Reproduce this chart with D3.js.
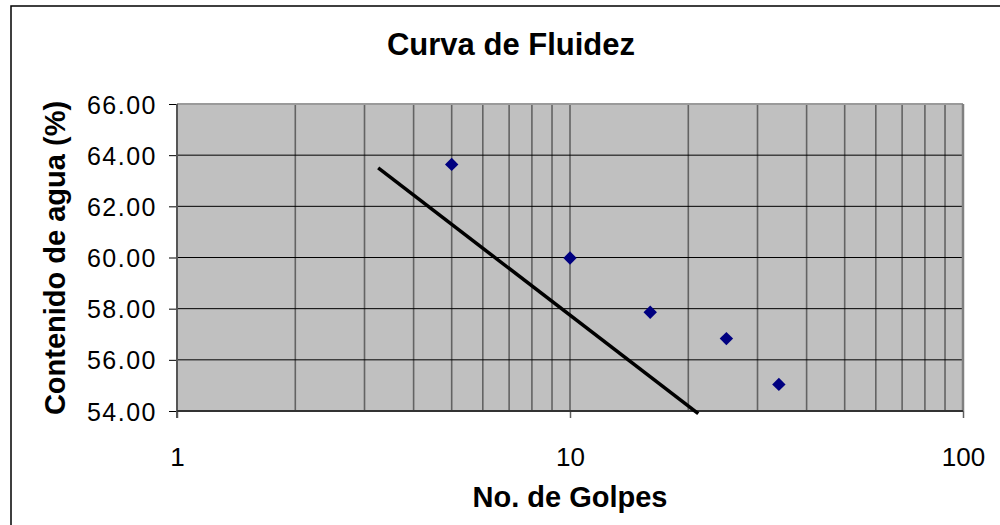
<!DOCTYPE html>
<html>
<head>
<meta charset="utf-8">
<script src="https://cdn.jsdelivr.net/npm/d3@7"></script>
<style>
  body { margin: 0; background: #fff; }
  text { font-family: "Liberation Sans", Arial, sans-serif; }
</style>
</head>
<body>
<div id="chart"></div>
<script>
// values
const golpes = [5, 10, 16, 25, 34]
const agua = [63.64, 59.98, 57.86, 56.83, 55.04]
// straight trend line (two ends)
const trendX = [3.25, 21.2]
const trendY = [63.5, 53.9]
const yTicks = [54, 56, 58, 60, 62, 64, 66]
const xTicks = [1, 10, 100]
const xGrid = [2, 3, 4, 5, 6, 7, 8, 9, 10, 20, 30, 40, 50, 60, 70, 80, 90]

const W = 1000, H = 525
const PLOT = { LEFT: 177, RIGHT: 963, TOP: 104, BOTTOM: 411 }

const svg = d3.select("#chart").append("svg")
  .attr("width", W)
  .attr("height", H)

svg.append("rect")
  .attr("width", W).attr("height", H)
  .attr("fill", "white")

// outer chart frame (runs off the right and bottom)
svg.append("rect")
  .attr("x", 11).attr("y", 6)
  .attr("width", W + 20).attr("height", H + 20)
  .attr("fill", "none")
  .attr("stroke", "black")
  .attr("stroke-width", 1.5)

const x = d3.scaleLog().domain([1, 100]).range([PLOT.LEFT, PLOT.RIGHT])
const y = d3.scaleLinear().domain([54, 66]).range([PLOT.BOTTOM, PLOT.TOP])

// plot background
svg.append("rect")
  .attr("x", PLOT.LEFT).attr("y", PLOT.TOP)
  .attr("width", PLOT.RIGHT - PLOT.LEFT)
  .attr("height", PLOT.BOTTOM - PLOT.TOP)
  .attr("fill", "#c0c0c0")

// vertical grid
svg.append("g").selectAll("line")
  .data(xGrid)
  .enter().append("line")
  .attr("x1", d => x(d)).attr("x2", d => x(d))
  .attr("y1", PLOT.TOP).attr("y2", PLOT.BOTTOM)
  .attr("stroke", "#636363")
  .attr("stroke-width", 1.6)

// horizontal grid
svg.append("g").selectAll("line")
  .data(yTicks.slice(1, -1))
  .enter().append("line")
  .attr("x1", PLOT.LEFT).attr("x2", PLOT.RIGHT)
  .attr("y1", d => y(d)).attr("y2", d => y(d))
  .attr("stroke", "black")
  .attr("stroke-width", 1)

// plot frame: top / right light, left / bottom dark
svg.append("line")
  .attr("x1", PLOT.LEFT).attr("x2", PLOT.RIGHT)
  .attr("y1", PLOT.TOP).attr("y2", PLOT.TOP)
  .attr("stroke", "#9a9a9a").attr("stroke-width", 2)
svg.append("line")
  .attr("x1", PLOT.RIGHT).attr("x2", PLOT.RIGHT)
  .attr("y1", PLOT.TOP).attr("y2", PLOT.BOTTOM)
  .attr("stroke", "#808080").attr("stroke-width", 2.5)

// y axis
const yAxis = svg.append("g")
  .attr("transform", `translate(${PLOT.LEFT},0)`)
  .call(d3.axisLeft(y).tickValues(yTicks).tickFormat(d3.format(".2f")).tickSize(8).tickPadding(12))
yAxis.select(".domain").remove()
yAxis.selectAll(".tick line").attr("stroke", "black").attr("stroke-width", 1)
yAxis.selectAll(".tick text")
  .attr("fill", "black")
  .style("font-family", '"Liberation Sans", Arial, sans-serif')
  .style("font-size", "25px")
  .style("letter-spacing", "1.5px")
  .attr("dy", "0.36em")

// x axis
const xAxis = svg.append("g")
  .attr("transform", `translate(0,${PLOT.BOTTOM})`)
  .call(d3.axisBottom(x).tickValues(xTicks).tickFormat(d3.format("d")).tickSize(7).tickPadding(30))
xAxis.select(".domain").remove()
xAxis.selectAll(".tick line").attr("stroke", "#606060").attr("stroke-width", 1.5)
xAxis.selectAll(".tick text")
  .attr("fill", "black")
  .style("font-family", '"Liberation Sans", Arial, sans-serif')
  .style("font-size", "26px")

svg.append("line")
  .attr("x1", PLOT.LEFT).attr("x2", PLOT.LEFT)
  .attr("y1", PLOT.TOP).attr("y2", PLOT.BOTTOM + 7)
  .attr("stroke", "#555").attr("stroke-width", 2)
svg.append("line")
  .attr("x1", PLOT.LEFT).attr("x2", PLOT.RIGHT)
  .attr("y1", PLOT.BOTTOM).attr("y2", PLOT.BOTTOM)
  .attr("stroke", "#333").attr("stroke-width", 2)

// trend line
svg.append("path")
  .datum(d3.zip(trendX, trendY))
  .attr("d", d3.line().x(d => x(d[0])).y(d => y(d[1])))
  .attr("fill", "none")
  .attr("stroke", "black")
  .attr("stroke-width", 3.5)

// points
svg.append("g").selectAll("path")
  .data(d3.zip(golpes, agua))
  .enter().append("path")
  .attr("d", d3.symbol().type(d3.symbolSquare).size(90))
  .attr("transform", d => `translate(${x(d[0])},${y(d[1])}) rotate(45)`)
  .attr("fill", "#000080")

// titles
svg.append("text")
  .attr("x", 511).attr("y", 55)
  .attr("text-anchor", "middle")
  .style("font-size", "31px").style("font-weight", "bold")
  .text("Curva de Fluidez")

svg.append("text")
  .attr("x", 570).attr("y", 507)
  .attr("text-anchor", "middle")
  .style("font-size", "29px").style("font-weight", "bold")
  .text("No. de Golpes")

svg.append("text")
  .attr("transform", "translate(65,258) rotate(-90)")
  .attr("text-anchor", "middle")
  .style("font-size", "29px").style("font-weight", "bold")
  .text("Contenido de agua (%)")
</script>
</body>
</html>
